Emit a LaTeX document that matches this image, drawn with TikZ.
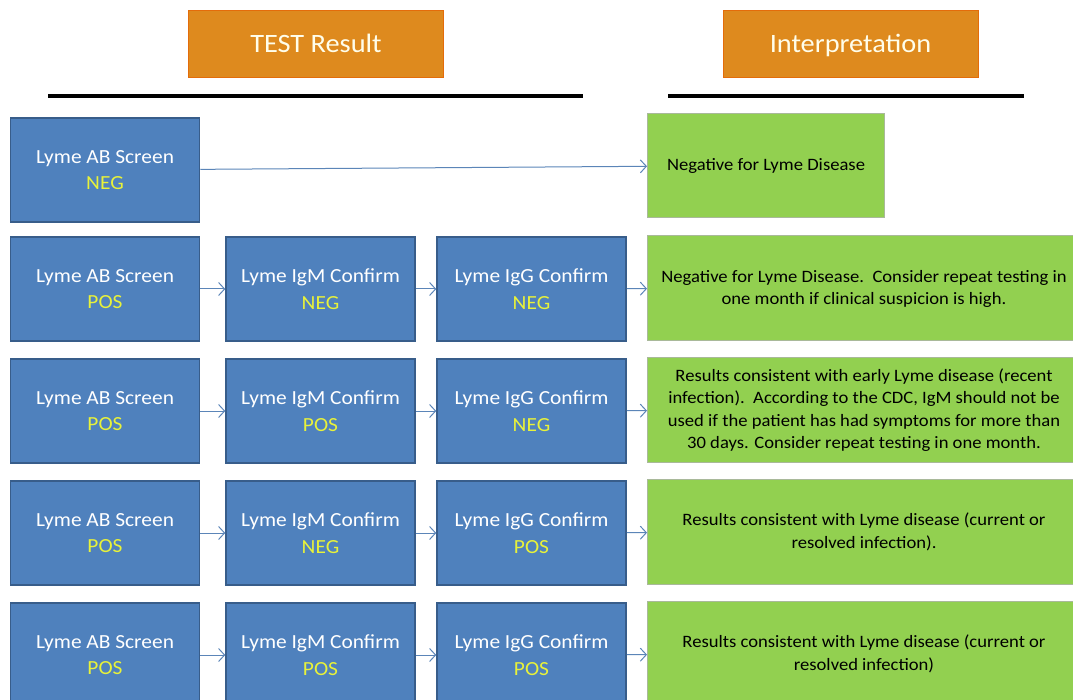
\documentclass[tikz,border=0pt]{standalone}
\usepackage{fontspec}
\setmainfont{Carlito}[FakeStretch=1.07]
\usetikzlibrary{arrows.meta}
\definecolor{bluefill}{HTML}{4F81BD}
\definecolor{blueedge}{HTML}{385D8A}
\definecolor{yel}{HTML}{E8F23A}
\definecolor{greenfill}{HTML}{92D050}
\definecolor{greenedge}{HTML}{A9B99A}
\definecolor{orfill}{HTML}{DE8A1E}
\definecolor{oredge}{HTML}{E46C0A}
\definecolor{arr}{HTML}{5B85B8}
\tikzset{
  testbox/.style={draw=blueedge, line width=1.5pt, fill=bluefill, text=white,
    minimum width=189pt, minimum height=104pt, align=center,
    font=\fontsize{20}{26.5}\selectfont},
  interp/.style={draw=greenedge, line width=1pt, fill=greenfill, text=black,
    minimum height=105pt, align=center, font=\fontsize{17.4}{22.4}\selectfont},
  header/.style={draw=oredge, line width=1pt, fill=orfill, text=white!92!yellow,
    minimum width=255pt, minimum height=67pt, font=\fontsize{26.5}{30}\selectfont,
    text height=22pt, text depth=5pt},
  flow/.style={draw=arr, line width=1pt, -{Straight Barb[length=6pt,width=13pt]}},
  rule/.style={line width=4pt, black}
}
\newcommand{\res}[1]{\\\textcolor{yel}{#1}}
\begin{document}
\begin{tikzpicture}[x=1pt,y=-1pt]
\useasboundingbox (0,0) rectangle (1073,700);
\clip (0,0) rectangle (1073,700);
% headers
\node[header] (h1) at (316,44) {TEST Result};
\node[header] (h2) at (850.5,44) {Interpretation};
\coordinate (l1a) at (48,96); \coordinate (l1b) at (583,96);
\coordinate (l2a) at (668,96); \coordinate (l2b) at (1024,96);
\draw[rule] (l1a) -- (l1b);
\draw[rule] (l2a) -- (l2b);
% row 1
\node[testbox] (a1) at (105,170) {Lyme AB Screen\res{NEG}};
\node[interp, minimum width=237pt, minimum height=104pt] (g1) at (766,165.5) {Negative for Lyme Disease};
\draw[flow] (a1) -- (g1);
% row 2
\node[testbox] (a2) at (105,289) {Lyme AB Screen\res{POS}};
\node[testbox] (b2) at (320.5,289) {Lyme IgM Confirm\res{NEG}};
\node[testbox] (c2) at (531.5,289) {Lyme IgG Confirm\res{NEG}};
\node[interp, minimum width=440pt, anchor=west] (g2) at (647,288) {};
\node[interp, draw=none, fill=none] (t2) at (864,289) {Negative for Lyme Disease.\ \ Consider repeat testing in\\one month if clinical suspicion is high.};
% row 3
\node[testbox] (a3) at (105,411) {Lyme AB Screen\res{POS}};
\node[testbox] (b3) at (320.5,411) {Lyme IgM Confirm\res{POS}};
\node[testbox] (c3) at (531.5,411) {Lyme IgG Confirm\res{NEG}};
\node[interp, minimum width=440pt, anchor=west] (g3) at (647,410) {};
\node[interp, draw=none, fill=none] (t3) at (864,410) {Results consistent with early Lyme disease (recent\\infection).\ \ According to the CDC, IgM should not be\\used if the patient has had symptoms for more than\\30 days. Consider repeat testing in one month.};
% row 4
\node[testbox] (a4) at (105,533) {Lyme AB Screen\res{POS}};
\node[testbox] (b4) at (320.5,533) {Lyme IgM Confirm\res{NEG}};
\node[testbox] (c4) at (531.5,533) {Lyme IgG Confirm\res{POS}};
\node[interp, minimum width=440pt, anchor=west] (g4) at (647,532) {};
\node[interp, draw=none, fill=none] (t4) at (864,532) {Results consistent with Lyme disease (current or\\resolved infection).};
% row 5
\node[testbox] (a5) at (105,655) {Lyme AB Screen\res{POS}};
\node[testbox] (b5) at (320.5,655) {Lyme IgM Confirm\res{POS}};
\node[testbox] (c5) at (531.5,655) {Lyme IgG Confirm\res{POS}};
\node[interp, minimum width=440pt, anchor=west] (g5) at (647,654) {};
\node[interp, draw=none, fill=none] (t5) at (864,654) {Results consistent with Lyme disease (current or\\resolved infection)};
% arrows
\foreach \r in {2,3,4,5}{
  \draw[flow] (a\r) -- (b\r);
  \draw[flow] (b\r) -- (c\r);
  \draw[flow] (c\r) -- (g\r);
}
\end{tikzpicture}
\end{document}
